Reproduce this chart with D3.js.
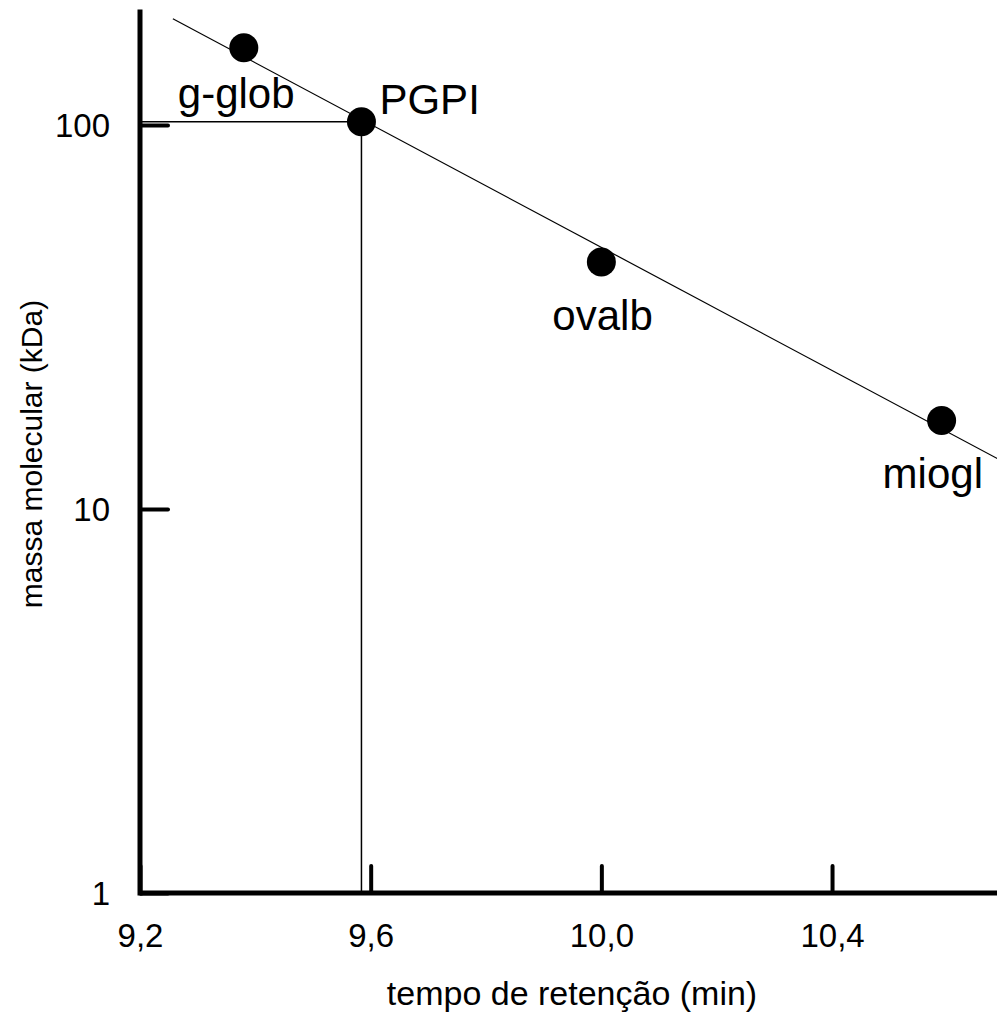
<!DOCTYPE html>
<html>
<head>
<meta charset="utf-8">
<script src="https://cdn.jsdelivr.net/npm/d3@7"></script>
<style>
  html, body { margin: 0; padding: 0; background: #fff; }
  svg { display: block; }
  text { font-family: "Liberation Sans", Arial, sans-serif; fill: #000; }
</style>
</head>
<body>
<script>
// ---- data ----
const proteins = ["g-glob", "PGPI", "ovalb", "miogl"];
const retentionTimes = [9.38, 9.584, 10.0, 10.59];
const molecularMasses = [159, 102, 44, 17];
const xTickValues = [9.2, 9.6, 10.0, 10.4];
const xTickLabels = ["9,2", "9,6", "10,0", "10,4"];
const yTickValues = [1, 10, 100];
const yTickLabels = ["1", "10", "100"];
const fitLineTimes = [9.257, 10.7];
const fitLineMasses = [189, 13.2];
const xTitle = "tempo de retenção (min)";
const yTitle = "massa molecular (kDa)";
const xDomain = [9.2, 10.7];
const yAxisTop = 200;

// ---- layout ----
const W = 997, H = 1020;
const svg = d3.select("body").append("svg").attr("width", W).attr("height", H);

const x = d3.scaleLinear().domain(xDomain).range([140, 140 + 1.5 * 576.7]);
const y = d3.scaleLog().domain([1, 100]).range([893, 125]);

// regression line
svg.append("line")
  .attr("x1", x(fitLineTimes[0])).attr("y1", y(fitLineMasses[0]))
  .attr("x2", x(fitLineTimes[1])).attr("y2", y(fitLineMasses[1]))
  .attr("stroke", "#000").attr("stroke-width", 1.2);

// reference lines for PGPI
const pi = proteins.indexOf("PGPI");
svg.append("line")
  .attr("x1", x(xDomain[0])).attr("x2", x(retentionTimes[pi]))
  .attr("y1", y(molecularMasses[pi])).attr("y2", y(molecularMasses[pi]))
  .attr("stroke", "#000").attr("stroke-width", 1.5);
svg.append("line")
  .attr("x1", x(retentionTimes[pi])).attr("x2", x(retentionTimes[pi]))
  .attr("y1", y(molecularMasses[pi])).attr("y2", y(1))
  .attr("stroke", "#000").attr("stroke-width", 1.5);

// axes
const xAxis = d3.axisBottom(x).tickValues(xTickValues)
  .tickFormat((d, i) => xTickLabels[i]).tickSize(-27).tickPadding(42).tickSizeOuter(0);
const gx = svg.append("g").attr("transform", `translate(0,${y(1)})`).call(xAxis);
gx.select(".domain").remove();
gx.selectAll(".tick line").attr("stroke", "#000").attr("stroke-width", 4).attr("stroke-linecap", "round");
gx.selectAll(".tick text").attr("font-size", 33).attr("font-family", "Liberation Sans, Arial, sans-serif").attr("dy", 0).attr("y", 54);
svg.append("line").attr("x1", x(xDomain[0])).attr("x2", x(xDomain[1]))
  .attr("y1", y(1)).attr("y2", y(1)).attr("stroke", "#000").attr("stroke-width", 5);

const yAxis = d3.axisLeft(y).tickValues(yTickValues)
  .tickFormat((d, i) => yTickLabels[i]).tickSize(-28).tickPadding(30).tickSizeOuter(0);
const gy = svg.append("g").attr("transform", `translate(${x(xDomain[0])},0)`).call(yAxis);
gy.select(".domain").remove();
gy.selectAll(".tick line").attr("stroke", "#000").attr("stroke-width", 4).attr("stroke-linecap", "round");
gy.selectAll(".tick text").attr("font-size", 33).attr("font-family", "Liberation Sans, Arial, sans-serif").attr("dy", "0.36em");
svg.append("line").attr("x1", x(xDomain[0])).attr("x2", x(xDomain[0]))
  .attr("y1", y(yAxisTop)).attr("y2", y(1) + 2.5).attr("stroke", "#000").attr("stroke-width", 5)
  .attr("stroke-linecap", "butt");

// points
svg.append("g").selectAll("circle").data(proteins).join("circle")
  .attr("cx", (d, i) => x(retentionTimes[i]))
  .attr("cy", (d, i) => y(molecularMasses[i]))
  .attr("r", 14.5).attr("fill", "#000");

// point labels (offsets relative to point: style, not data)
const labelOffsets = { "g-glob": [-66, 60], "PGPI": [18, -8], "ovalb": [-49, 68], "miogl": [-59, 67] };
svg.append("g").selectAll("text").data(proteins).join("text")
  .attr("x", (d, i) => x(retentionTimes[i]) + labelOffsets[d][0])
  .attr("y", (d, i) => y(molecularMasses[i]) + labelOffsets[d][1])
  .attr("font-size", 42)
  .text(d => d);

// axis titles
svg.append("text").attr("x", 572).attr("y", 1005).attr("text-anchor", "middle")
  .attr("font-size", 34).text(xTitle);
svg.append("text").attr("transform", "translate(42,454) rotate(-90)").attr("text-anchor", "middle")
  .attr("font-size", 30).text(yTitle);
</script>
</body>
</html>
